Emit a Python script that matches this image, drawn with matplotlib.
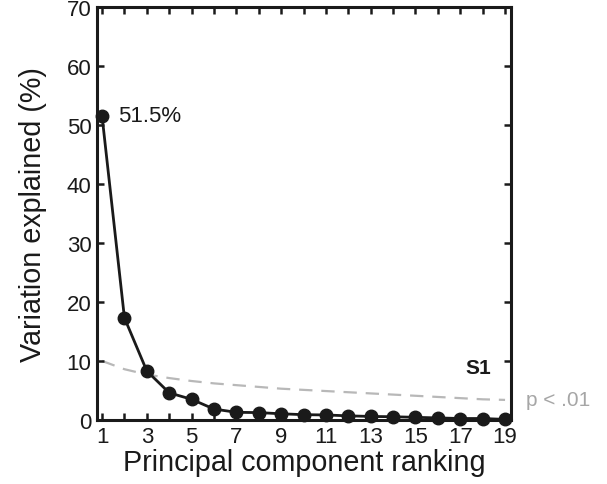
import matplotlib
matplotlib.use('Agg')
from matplotlib import pyplot as plt

plt.rcParams['font.family'] = ['Liberation Sans', 'DejaVu Sans']

# principal component rank and the variance each one explains (%)
ranks = list(range(1, 20))
variation = [51.5, 17.3, 8.3, 4.6, 3.5, 1.85, 1.3, 1.25, 1.05, 0.9,
             0.85, 0.7, 0.6, 0.55, 0.45, 0.35, 0.25, 0.25, 0.1]
# significance threshold (p < .01)
threshold = [10.0, 8.6, 7.7, 7.1, 6.6, 6.2, 5.9, 5.6, 5.3, 5.1,
             4.9, 4.7, 4.5, 4.3, 4.1, 3.9, 3.7, 3.5, 3.4]

fig = plt.figure(figsize=(6.07, 4.85), dpi=100)
ax = fig.add_axes([0.160, 0.132, 0.682, 0.852])

ax.plot(ranks, threshold, color='#b8b8b8', linewidth=1.6, dashes=(6, 4), zorder=1)
ax.plot(ranks, variation, color='#1a1a1a', linewidth=2.0, marker='o',
        markersize=9, zorder=2, clip_on=False)

ax.text(ranks[0] + 0.72, variation[0], '51.5%', fontsize=16, va='center', ha='left',
        color='#1a1a1a')
ax.text(18.4, 8.9, 'S1', fontsize=15, fontweight='bold', ha='right', va='center',
        color='#1a1a1a')
ax.text(19.95, threshold[-1], 'p < .01', fontsize=15, ha='left', va='center',
        color='#a6a6a6', clip_on=False)

ax.set_xlim(0.78, 19.27)
ax.set_ylim(0, 70)
ax.set_xticks(ranks)
ax.set_xticklabels([str(r) if r % 2 == 1 else '' for r in ranks])
ax.set_yticks(range(0, 71, 10))

ax.tick_params(direction='in', top=True, right=True, length=5, width=1.8,
               labelsize=16, colors='#1a1a1a', pad=4)
for s in ax.spines.values():
    s.set_linewidth(2.2)
    s.set_color('#1a1a1a')

ax.set_xlabel('Principal component ranking', fontsize=20.7, color='#1a1a1a', labelpad=1)
ax.set_ylabel('Variation explained (%)', fontsize=20.7, color='#1a1a1a', labelpad=14)

plt.savefig('out.png', dpi=100)
